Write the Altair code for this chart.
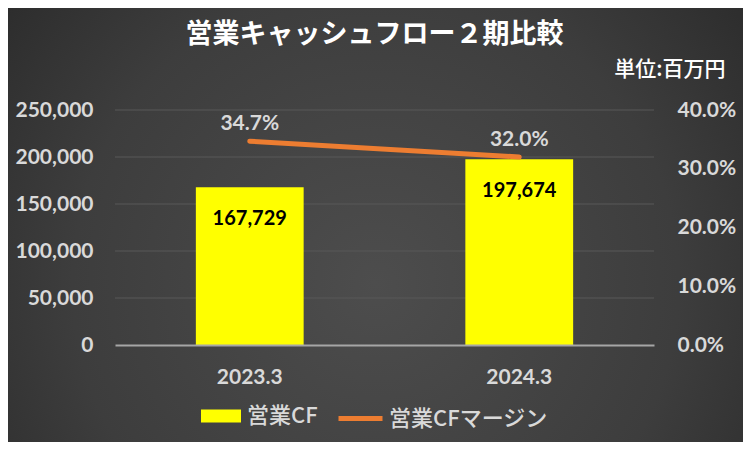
import altair as alt
import pandas as pd

# ---- data ----
periods = ["2023.3", "2024.3"]
cf_values = [167729, 197674]
margin_values = [0.347, 0.320]
series_names = ["営業CF", "営業CFマージン"]
title_text = "営業キャッシュフロー２期比較"
unit_text = "単位:百万円"
left_ticks = [0, 50000, 100000, 150000, 200000, 250000]
right_ticks = [0.0, 0.1, 0.2, 0.3, 0.4]

df = pd.DataFrame({
    "period": periods,
    "cf": cf_values,
    "margin": margin_values,
    "cf_name": [series_names[0]] * len(periods),
    "m_name": [series_names[1]] * len(periods),
})
grid_df = pd.DataFrame({"cf": left_ticks[1:]})

W, H = 539, 235
PAD = {"left": 107, "top": 102, "right": 89, "bottom": 97}

LAT = "Lato"
JP = "Noto Sans CJK JP"
LABEL_COLOR = "#d9d9d9"

bg_grad = {
    "gradient": "radial",
    "x1": 0.5, "y1": 0.58, "r1": 0,
    "x2": 0.5, "y2": 0.58, "r2": 0.75,
    "stops": [
        {"offset": 0, "color": "#4d4d4d"},
        {"offset": 0.55, "color": "#3d3d3d"},
        {"offset": 1, "color": "#242424"},
    ],
}

bg = alt.Chart(alt.Data(values=[{}])).mark_rect(fill=bg_grad, strokeWidth=0).encode(
    x=alt.value(-PAD["left"]),
    x2=alt.value(W + PAD["right"]),
    y=alt.value(-PAD["top"]),
    y2=alt.value(H + PAD["bottom"]),
)

x_axis = alt.Axis(
    labelAngle=0, labelFont=LAT, labelFontWeight="bold", labelFontSize=21,
    labelColor=LABEL_COLOR, labelPadding=21, ticks=False,
    domain=True, domainColor="#a6a6a6", domainWidth=2, grid=False, zindex=1,
)
x_scale = alt.Scale(paddingInner=0.6, paddingOuter=0.3)


def x_enc():
    return alt.X("period:N", sort=None, title=None, scale=x_scale, axis=x_axis)


left_scale = alt.Scale(domain=[0, 250000], nice=False)
left_axis = alt.Axis(
    values=left_ticks, format=",.0f", labelFont=LAT, labelFontWeight="bold",
    labelFontSize=21, labelColor=LABEL_COLOR, labelPadding=22,
    ticks=False, domain=False, grid=False, zindex=1, orient="left",
)


def y_left():
    return alt.Y("cf:Q", title=None, scale=left_scale, axis=left_axis)


right_scale = alt.Scale(domain=[0, 0.4], nice=False)
right_axis = alt.Axis(
    orient="right", values=right_ticks, format=".1%", labelFont=LAT,
    labelFontWeight="bold", labelFontSize=21, labelColor=LABEL_COLOR,
    labelPadding=23, labelAlign="left", ticks=False, domain=False, grid=False,
    titleAngle=0, titleAlign="right", titleBaseline="bottom",
    titleX=71, titleY=-31, titleFont=JP, titleFontSize=21,
    titleFontWeight=500, titleColor="#ffffff", zindex=1,
)


def y_right():
    return alt.Y("margin:Q", title=unit_text, scale=right_scale, axis=right_axis)


gridlines = alt.Chart(grid_df).mark_rule(color="#595959", strokeWidth=1).encode(
    y=y_left(),
)

bars = alt.Chart(df).mark_bar(color="#FFFF00").encode(
    x=x_enc(),
    y=y_left(),
    color=alt.Color(
        "cf_name:N",
        scale=alt.Scale(domain=[series_names[0]], range=["#FFFF00"]),
        legend=alt.Legend(
            title=None, orient="none", legendX=86, legendY=286, padding=0,
            symbolType="M-1,-0.33H1V0.33H-1Z", symbolSize=1600,
            symbolStrokeWidth=0, symbolOpacity=1,
            labelFont=JP, labelFontSize=22, labelColor=LABEL_COLOR,
            labelOffset=6, labelFontWeight=500,
        ),
    ),
)

bar_labels = alt.Chart(df).mark_text(
    font=LAT, fontWeight="bold", fontSize=20, color="#000000",
    baseline="middle", dy=32,
).encode(
    x=x_enc(),
    y=y_left(),
    text=alt.Text("cf:Q", format=","),
)

line = alt.Chart(df).mark_line(strokeWidth=5, strokeCap="round").encode(
    x=x_enc(),
    y=y_right(),
    stroke=alt.Stroke(
        "m_name:N",
        scale=alt.Scale(domain=[series_names[1]], range=["#ED7D31"]),
        legend=alt.Legend(
            title=None, orient="none", legendX=221, legendY=284, padding=0,
            symbolType="stroke", symbolSize=1936, symbolStrokeWidth=5,
            labelFont=JP, labelFontSize=22, labelColor=LABEL_COLOR,
            labelOffset=4, labelFontWeight=500,
        ),
    ),
)

line_labels = alt.Chart(df).mark_text(
    font=LAT, fontWeight="bold", fontSize=21, color=LABEL_COLOR,
    baseline="middle", dy=-17,
).encode(
    x=x_enc(),
    y=y_right(),
    text=alt.Text("margin:Q", format=".1%"),
)

left = alt.layer(gridlines, bars, bar_labels)
right = alt.layer(line, line_labels)

chart = alt.layer(bg, left, right).resolve_scale(
    y="independent"
).properties(
    width=W, height=H,
    autosize=alt.AutoSizeParams(type="none"),
    padding=PAD,
    background="#2b2b2b",
    title=alt.TitleParams(
        text=title_text, font=JP, fontSize=27, fontWeight="bold",
        color="#ffffff", anchor="middle", baseline="bottom", offset=0,
        dy=68, dx=-10,
    ),
).configure_view(stroke=None)

chart.save("out.html", embed_options={"renderer": "svg", "actions": False})
